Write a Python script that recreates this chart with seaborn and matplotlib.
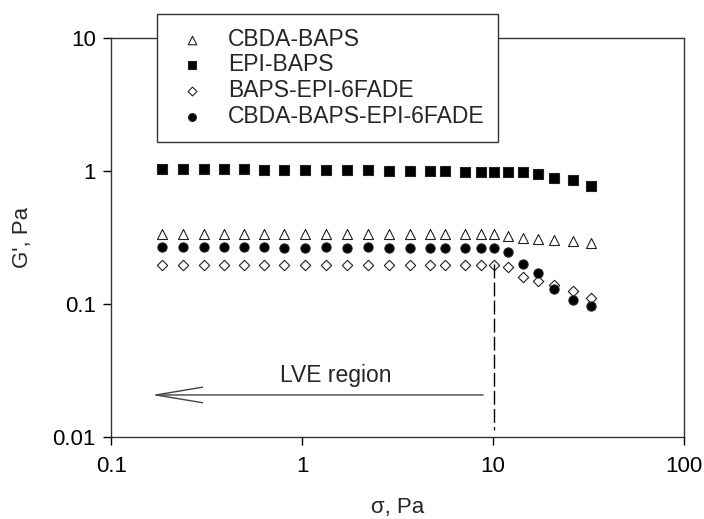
import numpy as np
import pandas as pd
import seaborn as sns
import matplotlib.pyplot as plt

# shear stress sweep, sigma in Pa
stress = [0.185, 0.238, 0.307, 0.391, 0.497, 0.632, 0.805, 1.04, 1.34, 1.72, 2.22, 2.85,
          3.67, 4.68, 5.61, 7.13, 8.65, 10.1, 12.0, 14.4, 17.2, 20.9, 26.2, 32.6]

# storage modulus G', Pa
g_cbda_baps = [0.335, 0.335, 0.335, 0.335, 0.335, 0.335, 0.335, 0.335, 0.335, 0.335, 0.335, 0.335,
               0.335, 0.335, 0.335, 0.335, 0.335, 0.335, 0.325, 0.315, 0.31, 0.305, 0.295, 0.285]
g_epi_baps = [1.03, 1.03, 1.03, 1.03, 1.04, 1.01, 1.01, 1.01, 1.01, 1.01, 1.01, 1.0,
              1.0, 1.0, 1.0, 0.99, 0.99, 0.99, 0.99, 0.98, 0.94, 0.89, 0.86, 0.775]
g_baps_epi_6fade = [0.197, 0.197, 0.197, 0.197, 0.197, 0.197, 0.197, 0.197, 0.197, 0.197, 0.197, 0.197,
                    0.197, 0.197, 0.197, 0.197, 0.197, 0.197, 0.19, 0.16, 0.15, 0.14, 0.125, 0.11]
g_cbda_baps_epi_6fade = [0.268, 0.268, 0.268, 0.268, 0.27, 0.268, 0.265, 0.265, 0.268, 0.265, 0.268, 0.265,
                         0.265, 0.265, 0.265, 0.265, 0.265, 0.265, 0.245, 0.2, 0.17, 0.13, 0.108, 0.096]

series_names = ['CBDA-BAPS', 'EPI-BAPS', 'BAPS-EPI-6FADE', 'CBDA-BAPS-EPI-6FADE']
x_ticks = [0.1, 1, 10, 100]
x_tick_labels = ['0.1', '1', '10', '100']
y_ticks = [0.01, 0.1, 1, 10]
y_tick_labels = ['0.01', '0.1', '1', '10']

STYLES = {
    'CBDA-BAPS': dict(marker='^', s=52, color='white'),
    'EPI-BAPS': dict(marker='s', s=52, color='black'),
    'BAPS-EPI-6FADE': dict(marker='D', s=28, color='white'),
    'CBDA-BAPS-EPI-6FADE': dict(marker='o', s=44, color='black'),
}


def build_frame():
    values = [g_cbda_baps, g_epi_baps, g_baps_epi_6fade, g_cbda_baps_epi_6fade]
    frames = [pd.DataFrame({'stress': stress, 'G': v, 'sample': name})
              for name, v in zip(series_names, values)]
    return pd.concat(frames, ignore_index=True)


def main():
    sns.set_style('ticks')
    plt.rcParams['font.family'] = ['Liberation Sans', 'DejaVu Sans']
    plt.rcParams['font.size'] = 16

    df = build_frame()
    fig, ax = plt.subplots(figsize=(7.04, 5.19), dpi=100)
    fig.subplots_adjust(left=0.158, right=0.971, top=0.927, bottom=0.158)

    for name in series_names:
        sub = df[df['sample'] == name]
        st = STYLES[name]
        sns.scatterplot(data=sub, x='stress', y='G', ax=ax, label=name,
                        marker=st['marker'], s=st['s'], color=st['color'],
                        edgecolor='#222222', linewidth=0.8, zorder=3)

    ax.set_xscale('log')
    ax.set_yscale('log')
    ax.set_xlim(0.1, 100)
    ax.set_ylim(0.01, 10)
    ax.set_xticks(x_ticks)
    ax.set_xticklabels(x_tick_labels)
    ax.set_yticks(y_ticks)
    ax.set_yticklabels(y_tick_labels)
    ax.minorticks_off()
    ax.tick_params(direction='out', length=6, width=1, labelsize=16, colors='black')
    ax.tick_params(axis='x', pad=8)
    ax.tick_params(axis='y', pad=5)
    for side in ['left', 'right', 'top', 'bottom']:
        ax.spines[side].set_visible(True)
        ax.spines[side].set_color('#333333')
        ax.spines[side].set_linewidth(1)

    ax.set_xlabel('σ, Pa', fontsize=16, labelpad=14)
    ax.set_ylabel("G', Pa", fontsize=16, labelpad=14)

    # LVE limit and arrow
    ax.plot([10.1, 10.1], [0.2, 0.0113], color='black', lw=1, ls=(0, (10, 3)), zorder=4)
    ax.annotate('', xy=(0.163, 0.0207), xytext=(8.9, 0.0207),
                arrowprops=dict(arrowstyle='->,head_length=2.1,head_width=0.35',
                                color='#444444', lw=1, shrinkA=0, shrinkB=0))
    ax.text(1.5, 0.0292, 'LVE region', ha='center', va='center', fontsize=16.5)

    leg = ax.legend(loc='upper left', bbox_to_anchor=(0.08, 1.06), borderaxespad=0,
                    frameon=True, fancybox=False, edgecolor='#333333', framealpha=1,
                    fontsize=16.5, handlelength=1.85, handletextpad=0.65, borderpad=0.6,
                    labelspacing=0.12, markerscale=0.85)
    leg.get_frame().set_linewidth(1)
    leg.set_zorder(5)

    fig.savefig('out.png', dpi=100)


if __name__ == '__main__':
    main()
